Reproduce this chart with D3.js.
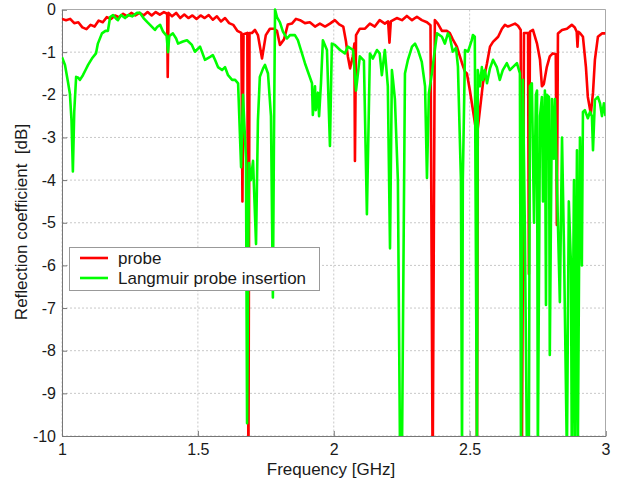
<!DOCTYPE html>
<html lang="en">
<head>
<meta charset="UTF-8">
<title>Reflection coefficient</title>
<script src="https://d3js.org/d3.v7.min.js"></script>
<style>
    body { margin: 0; background: #fff; }
    svg { font-family: Arial, "Liberation Sans", sans-serif; }
    .grid line { stroke: #c8c8c8; stroke-dasharray: 2,2; }
    .tick-label { fill: #1a1a1a; }
</style>
</head>
<body>
<div id="chart"></div>
<script>
// frequency [GHz] / reflection coefficient [dB]
const probeF = [1.000,1.015,1.030,1.045,1.060,1.075,1.090,1.105,1.120,1.135,1.150,1.165,1.180,1.195,1.210,1.225,1.240,1.255,1.270,1.285,
    1.300,1.315,1.330,1.345,1.360,1.375,1.387,1.389,1.392,1.405,1.420,1.435,1.450,1.465,1.480,1.495,1.510,1.525,1.540,1.555,
    1.570,1.585,1.600,1.615,1.630,1.645,1.660,1.664,1.668,1.682,1.686,1.690,1.699,1.710,1.721,1.736,1.750,1.765,1.780,1.791,
    1.802,1.817,1.831,1.846,1.861,1.876,1.894,1.912,1.931,1.949,1.968,1.986,2.004,2.020,2.035,2.045,2.052,2.060,2.070,2.076,
    2.078,2.082,2.096,2.115,2.133,2.151,2.169,2.188,2.200,2.205,2.210,2.232,2.251,2.269,2.288,2.306,2.324,2.343,2.356,2.364,
    2.372,2.383,2.398,2.416,2.427,2.438,2.453,2.472,2.483,2.490,2.501,2.512,2.524,2.527,2.530,2.538,2.549,2.564,2.575,2.586,
    2.605,2.619,2.630,2.641,2.656,2.667,2.678,2.688,2.692,2.700,2.715,2.718,2.722,2.733,2.748,2.759,2.766,2.773,2.784,2.795,
    2.806,2.817,2.821,2.825,2.840,2.858,2.876,2.887,2.894,2.897,2.900,2.906,2.917,2.928,2.935,2.946,2.954,2.961,2.972,2.987,3.000];
const probeDb = [-0.22,-0.25,-0.22,-0.32,-0.30,-0.42,-0.46,-0.36,-0.40,-0.26,-0.30,-0.18,-0.22,-0.14,-0.18,-0.10,-0.16,-0.08,-0.14,-0.08,
    -0.14,-0.06,-0.14,-0.06,-0.12,-0.06,-0.10,-1.58,-0.08,-0.16,-0.08,-0.20,-0.12,-0.20,-0.14,-0.22,-0.14,-0.20,-0.13,-0.24,
    -0.16,-0.28,-0.20,-0.32,-0.36,-0.50,-0.55,-4.50,-0.58,-0.55,-11,-0.55,-0.55,-0.48,-0.60,-1.15,-0.60,-0.45,-0.45,-0.50,
    -0.83,-0.70,-0.35,-0.33,-0.22,-0.25,-0.32,-0.30,-0.40,-0.33,-0.40,-0.33,-0.25,-0.35,-0.40,-0.75,-1.10,-1.38,-1.10,-0.80,
    -3.55,-0.60,-0.45,-0.45,-0.33,-0.40,-0.25,-0.33,-0.28,-0.78,-0.28,-0.20,-0.25,-0.15,-0.25,-0.17,-0.25,-0.30,-0.37,-11,
    -0.25,-0.33,-0.50,-0.50,-0.55,-0.70,-0.87,-1.26,-1.46,-1.50,-1.90,-2.35,-2.85,-11,-2.80,-2.35,-1.73,-1.26,-0.87,-0.76,
    -0.64,-0.45,-0.36,-0.40,-0.36,-0.33,-0.38,-0.48,-11,-0.55,-0.55,-6.2,-0.52,-0.48,-0.80,-1.18,-1.80,-1.75,-1.35,-1.10,
    -1.03,-1.05,-5.05,-0.56,-0.48,-0.45,-0.36,-0.42,-0.52,-0.87,-0.52,-0.55,-0.64,-1.35,-2.05,-2.45,-1.95,-1.18,-0.64,-0.56,-0.56];

const langF = [1.000,1.011,1.022,1.029,1.035,1.040,1.045,1.052,1.060,1.066,1.077,1.088,1.096,1.110,1.125,1.132,1.147,1.160,1.169,1.177,
    1.188,1.200,1.206,1.217,1.232,1.243,1.258,1.276,1.287,1.300,1.313,1.324,1.342,1.350,1.361,1.372,1.385,1.390,1.395,1.408,
    1.420,1.427,1.445,1.460,1.478,1.489,1.508,1.526,1.545,1.555,1.563,1.574,1.589,1.600,1.611,1.626,1.637,1.648,1.659,1.666,
    1.677,1.681,1.688,1.695,1.703,1.714,1.721,1.728,1.740,1.747,1.758,1.769,1.776,1.780,1.784,1.791,1.802,1.813,1.828,1.839,
    1.857,1.868,1.883,1.894,1.905,1.920,1.923,1.931,1.934,1.942,1.946,1.953,1.960,1.975,1.986,1.993,2.004,2.023,2.041,2.052,
    2.071,2.082,2.096,2.111,2.122,2.133,2.144,2.159,2.169,2.177,2.188,2.199,2.207,2.214,2.218,2.225,2.236,2.244,2.251,2.262,
    2.273,2.288,2.299,2.310,2.324,2.336,2.343,2.350,2.361,2.372,2.380,2.398,2.409,2.420,2.427,2.438,2.450,2.457,2.468,2.472,
    2.475,2.483,2.494,2.508,2.512,2.519,2.527,2.530,2.538,2.545,2.549,2.556,2.564,2.575,2.586,2.600,2.611,2.622,2.637,2.648,
    2.659,2.674,2.685,2.689,2.696,2.703,2.711,2.718,2.722,2.729,2.737,2.744,2.748,2.751,2.759,2.766,2.770,2.777,2.781,2.784,
    2.792,2.795,2.803,2.810,2.814,2.821,2.832,2.840,2.847,2.858,2.865,2.873,2.876,2.884,2.887,2.895,2.898,2.906,2.913,2.917,
    2.924,2.935,2.943,2.950,2.954,2.961,2.972,2.980,2.987,2.994,3.000];
const langDb = [-1.12,-1.30,-1.70,-1.97,-2.60,-3.80,-2.40,-1.58,-1.60,-1.65,-1.54,-1.40,-1.30,-1.15,-1.03,-0.80,-0.56,-0.50,-0.50,-0.18,
    -0.13,-0.22,-0.25,-0.13,-0.20,-0.13,-0.16,-0.08,-0.08,-0.20,-0.29,-0.36,-0.48,-0.41,-0.36,-0.52,-0.62,-1.00,-0.62,-0.56,
    -0.68,-0.80,-0.75,-0.72,-0.83,-0.99,-0.87,-1.18,-1.11,-1.07,-1.18,-1.35,-1.42,-1.35,-1.54,-1.65,-1.65,-1.73,-3.70,-2.00,
    -3.50,-9.70,-3.60,-4.00,-3.55,-5.50,-2.60,-1.58,-1.38,-1.30,-1.50,-2.50,-6.75,-3.00,0.00,-0.18,-0.30,-0.52,-0.68,-0.60,
    -0.60,-0.72,-1.03,-1.26,-1.46,-1.73,-2.47,-1.80,-2.36,-1.95,-2.50,-1.73,-0.72,-0.95,-3.20,-0.80,-0.83,-0.95,-1.03,-0.87,
    -0.95,-1.90,-1.10,-1.20,-4.80,-1.03,-1.15,-0.95,-1.03,-1.54,-0.95,-1.80,-5.60,-1.42,-1.65,-2.10,-4.00,-10.5,-10.5,-1.50,
    -1.18,-0.87,-0.80,-0.95,-1.23,-1.80,-3.95,-1.97,-1.50,-0.95,-0.56,-0.64,-0.80,-0.56,-0.64,-0.99,-0.90,-1.34,-4.00,-10.5,
    -4.00,-0.95,-0.99,-0.72,-0.60,-0.64,-10.5,-1.42,-1.80,-1.35,-1.65,-1.42,-1.73,-1.38,-1.18,-1.35,-1.65,-1.42,-1.26,-1.42,
    -1.35,-1.26,-1.50,-10.5,-1.65,-5.00,-10.5,-10.5,-1.80,-1.73,-5.00,-2.00,-1.90,-10.5,-2.50,-2.05,-4.50,-1.90,-6.93,-2.00,
    -2.05,-8.10,-2.10,-3.50,-2.10,-4.00,-6.86,-3.00,-5.50,-10.5,-4.50,-6.00,-10.5,-4.00,-10.5,-3.30,-10.5,-3.00,-6.00,-2.40,
    -2.36,-2.55,-2.40,-2.50,-3.30,-2.12,-2.05,-2.20,-2.50,-2.20,-2.50];

const xTicks = [1, 1.5, 2, 2.5, 3];
const yTicks = [0, -1, -2, -3, -4, -5, -6, -7, -8, -9, -10];
const seriesNames = ["probe", "Langmuir probe insertion"];
const seriesColors = ["#ff0000", "#00ff00"];

const W = 621, H = 485;
const svg = d3.select("#chart").append("svg").attr("width", W).attr("height", H);

const x = d3.scaleLinear().domain([1, 3]).range([62, 605.5]);
const y = d3.scaleLinear().domain([-10, 0]).range([436, 9.5]);

// grid
const grid = svg.append("g").attr("class", "grid");
grid.selectAll(".gx").data(xTicks).enter().append("line")
    .attr("x1", d => x(d)).attr("x2", d => x(d)).attr("y1", y(0)).attr("y2", y(-10));
grid.selectAll(".gy").data(yTicks).enter().append("line")
    .attr("x1", x(1)).attr("x2", x(3)).attr("y1", d => y(d)).attr("y2", d => y(d));

// axes (ticks pointing inward, like the original)
svg.append("g").attr("transform", `translate(0,${y(-10)})`)
    .call(d3.axisBottom(x).tickValues(xTicks).tickSize(-5).tickPadding(8).tickFormat(d3.format("")))
    .call(g => g.selectAll("text").attr("class", "tick-label").style("font-size", "16px"));
svg.append("g").attr("transform", `translate(${x(1)},0)`)
    .call(d3.axisLeft(y).tickValues(yTicks).tickSize(-5).tickPadding(6).tickFormat(d => d === 0 ? "0" : "-" + Math.abs(d)))
    .call(g => g.selectAll("text").attr("class", "tick-label").style("font-size", "16px"));
svg.selectAll(".domain").attr("stroke", "#777");
svg.selectAll(".tick line").attr("stroke", "#777");

// box on top / right
svg.append("path")
    .attr("d", `M${x(1)},${y(0)}H${x(3)}V${y(-10)}`)
    .attr("fill", "none").attr("stroke", "#aaa");

svg.append("defs").append("clipPath").attr("id", "clip")
    .append("rect").attr("x", x(1)).attr("y", y(0) - 3).attr("width", x(3) - x(1)).attr("height", y(-10) - y(0) + 3);

const line = d3.line().x(d => x(d[0])).y(d => y(d[1]));
const probe = probeF.map((f, i) => [f, probeDb[i]]);
const lang = langF.map((f, i) => [f, langDb[i]]);

const plot = svg.append("g").attr("clip-path", "url(#clip)");
[probe, lang].forEach((data, i) => {
    plot.append("path").datum(data)
        .attr("d", line)
        .attr("fill", "none")
        .attr("stroke", seriesColors[i])
        .attr("stroke-width", 2.6)
        .attr("stroke-linejoin", "round");
});

// axis titles
svg.append("text").attr("x", 331).attr("y", 475).attr("text-anchor", "middle")
    .style("font-size", "17px").attr("fill", "#1a1a1a").text("Frequency [GHz]");
svg.append("text").attr("transform", "translate(27,222) rotate(-90)").attr("text-anchor", "middle")
    .style("font-size", "17px").style("white-space", "pre").attr("fill", "#1a1a1a").text("Reflection coefficient  [dB]");

// legend
const legend = svg.append("g");
legend.append("rect").attr("x", 69.5).attr("y", 247.5).attr("width", 250).attr("height", 43)
    .attr("fill", "#fff").attr("stroke", "#999");
seriesNames.forEach((name, i) => {
    const ly = 258 + i * 20;
    legend.append("line").attr("x1", 80).attr("x2", 108).attr("y1", ly).attr("y2", ly)
        .attr("stroke", seriesColors[i]).attr("stroke-width", 2.6);
    legend.append("text").attr("x", 118).attr("y", ly + 6).style("font-size", "17px").attr("fill", "#1a1a1a").text(name);
});
</script>
</body>
</html>
